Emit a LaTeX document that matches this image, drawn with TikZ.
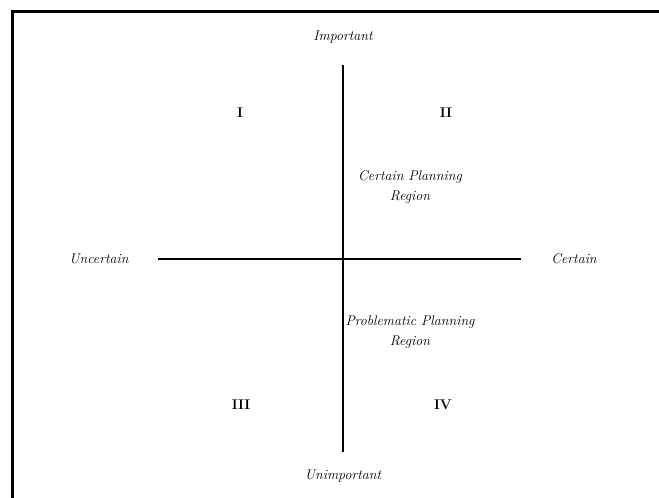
\documentclass[tikz,border=0pt]{standalone}
\usepackage{amsmath}
\usepackage{tikz}

\tikzset{
  lbl/.style={font=\fontsize{14}{20}\selectfont\itshape, align=center},
  num/.style={font=\fontsize{14}{20}\selectfont\bfseries},
  axis/.style={line width=2pt}
}

\begin{document}
\begin{tikzpicture}[x=1pt, y=-1pt]
            \useasboundingbox (0,0) rectangle (659,498);
            \draw[line width=3pt] (12,498) -- (12,11.5) -- (659,11.5);

            \coordinate (top) at (343, 65);
            \coordinate (bottom) at (343, 452);
            \coordinate (left) at (158, 259);
            \coordinate (right) at (521, 259);

            \node[lbl] (imp) at (343, 37) {Important};
            \node[lbl] (unimp) at (343, 476) {Unimportant};
            \node[lbl] (unc) at (99, 259) {Uncertain};
            \node[lbl] (cert) at (574, 259) {Certain};

            \node[num] (q1) at (240, 113) {I};
            \node[num] (q2) at (446, 113) {II};
            \node[num] (q3) at (241, 405) {III};
            \node[num] (q4) at (443, 405) {IV};

            \node[lbl] (cpr) at (410, 187) {Certain Planning\\Region};
            \node[lbl] (ppr) at (410, 332) {Problematic Planning\\Region};

            \draw[axis] (top) -- (bottom);
            \draw[axis] (left) -- (right);
        \end{tikzpicture}
\end{document}
